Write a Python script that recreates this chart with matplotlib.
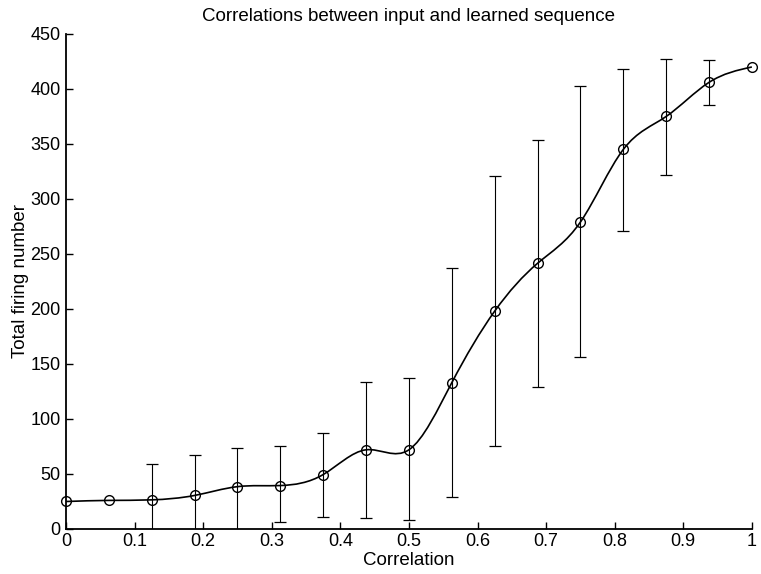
import numpy as np
import matplotlib
matplotlib.use("Agg")
import matplotlib.pyplot as plt
from matplotlib.path import Path
from matplotlib.patches import PathPatch

plt.rcParams['font.family'] = ['Liberation Sans', 'DejaVu Sans']

# data
corr = np.arange(17) / 16.0
firing = [25, 26, 26.5, 30.5, 38.5, 39.5, 49.5, 72, 72, 133, 198, 241.5, 279, 345, 375, 406, 420]
err_low = [np.nan, np.nan, -6, -6, -6, 6, 11, 10, 8, 29, 75, 129, 156, 271, 322, 385, np.nan]
err_high = [np.nan, np.nan, 59, 67.5, 73.5, 75, 87.5, 134, 137, 237, 321, 354, 403, 418, 427, 426, np.nan]

x = np.asarray(corr)
y = np.asarray(firing, dtype=float)
lo = np.asarray(err_low, dtype=float)
hi = np.asarray(err_high, dtype=float)

fig = plt.figure(figsize=(7.61, 5.74), dpi=100)
ax = fig.add_axes([0.0867, 0.0784, 0.9013, 0.8624])

# smooth curve: natural cubic spline slopes, drawn as bezier path
n = len(y)
A = np.zeros((n, n))
b = np.zeros(n)
A[0, 0], A[0, 1] = 2, 1
b[0] = 3 * (y[1] - y[0])
A[-1, -2], A[-1, -1] = 1, 2
b[-1] = 3 * (y[-1] - y[-2])
for i in range(1, n - 1):
    A[i, i - 1], A[i, i], A[i, i + 1] = 1, 4, 1
    b[i] = 3 * (y[i + 1] - y[i - 1])
m = np.linalg.solve(A, b)
h = x[1] - x[0]
verts = [(x[0], y[0])]
codes = [Path.MOVETO]
for i in range(n - 1):
    verts += [(x[i] + h / 3, y[i] + m[i] / 3),
              (x[i + 1] - h / 3, y[i + 1] - m[i + 1] / 3),
              (x[i + 1], y[i + 1])]
    codes += [Path.CURVE4] * 3
ax.add_patch(PathPatch(Path(verts, codes), fill=False, lw=1.2, ec='black'))

ok = ~np.isnan(lo)
ax.errorbar(x[ok], y[ok], yerr=[y[ok] - lo[ok], hi[ok] - y[ok]], fmt='none',
            ecolor='black', elinewidth=0.8, capsize=4, capthick=0.9)
ax.plot(x, y, 'o', ms=7, mfc='none', mec='black', mew=1.0, clip_on=False)

ax.set_xlim(0, 1)
ax.set_ylim(0, 450)
ax.set_xticks(np.arange(0, 1.01, 0.1))
ax.set_xticklabels(['0', '0.1', '0.2', '0.3', '0.4', '0.5', '0.6', '0.7', '0.8', '0.9', '1'])
ax.set_yticks(np.arange(0, 451, 50))
ax.spines['top'].set_visible(False)
ax.spines['right'].set_visible(False)
ax.spines['left'].set_linewidth(1.3)
ax.spines['bottom'].set_linewidth(1.3)
ax.tick_params(direction='in', length=5, width=1, labelsize=13)
ax.tick_params(axis='x', pad=3)
ax.tick_params(axis='y', pad=4)
ax.set_title('Correlations between input and learned sequence', fontsize=13.5, pad=9)
ax.set_xlabel('Correlation', fontsize=13.5, labelpad=1)
ax.set_ylabel('Total firing number', fontsize=13.5, labelpad=1)

fig.savefig('out.png', dpi=100)
